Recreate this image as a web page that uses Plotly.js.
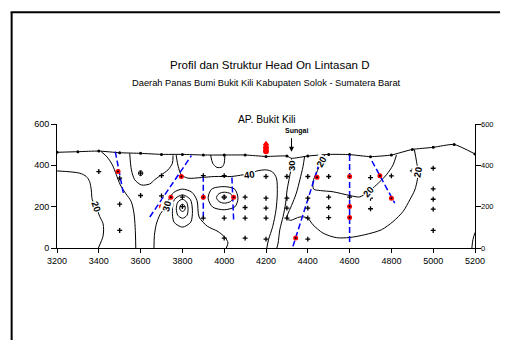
<!DOCTYPE html>
<html><head><meta charset="utf-8">
<script src="https://cdn.plot.ly/plotly-3.0.1.min.js"></script>
<style>body{margin:0;background:#fff}#chart{width:515px;height:340px}</style>
</head><body><div id="chart"></div>
<script>
// topography profile
const topoX = [3200,3300,3400,3500,3600,3700,3800,3900,4000,4100,4200,4300,4322,4400,4500,4600,4700,4800,4900,5000,5100,5200];
const topoY = [463,466,469,461,458,453,453,450,450,450,443,445,434,445,453,452,442,450,477,487,501,455];
const stationX = [3200,3300,3400,3500,3600,3700,3800,3900,4000,4100,4200,4300,4400,4500,4600,4700,4800,4900,5000,5100,5200];
const stationY = [463,466,469,461,458,453,453,450,450,450,443,445,445,453,452,442,450,477,487,501,455];
// measurement points
const ptX = [3400,3500,3500,3500,3600,3600,3700,3700,3800,3800,3900,3900,4000,4000,4000,4000,4100,4100,4100,4100,4200,4200,4200,4200,4200,4300,4300,4300,4300,4400,4400,4400,4400,4400,4500,4500,4500,4500,4600,4700,4700,4700,4800,4900,5000,5000,5000,5000,5000];
const ptY = [370,338,212,85,362,254,350,252,246,200,350,145,350,246,145,48,246,196,145,48,346,241,193,145,43,346,241,193,145,346,241,193,145,43,346,246,196,147,246,341,241,190,349,373,386,286,236,188,85];
// red points
const redX = [3492,3700,3745,3795,3900,4045,4342,4444,4600,4600,4600,4745,4800];
const redY = [370,201,246,346,246,246,48,342,346,201,148,349,241];
const apX = [4200,4200,4200];
const apY = [505,485,468];
// faults
const f1X=[3479,3519], f1Y=[466,257];
const f2X=[3644,3843], f2Y=[150,447];
const f3X=[3900,3900], f3Y=[349,137];
const f4X=[4037,4045], f4Y=[341,137];
const f5X=[4329,4465], f5Y=[8,442];
const f6X=[4600,4600], f6Y=[450,24];
const f7X=[4707,4816], f7Y=[421,217];
// contour lines (head)
const c1X=[3200,3309,3340,3356,3364,3369,3388,3404,3420,3423,3420,3398];
const c1Y=[373,362,346,322,281,233,201,153,120,88,56,0];
const c2X=[3412,3440,3465,3484,3503,3530,3555,3568,3574,3577];
const c2Y=[466,440,402,354,305,262,225,170,100,0];
const c3X=[3664,3666,3675,3692,3712,3723,3735,3760,3800,3845,3870,3880,3920,3970,4005,4018,4010];
const c3Y=[0,60,115,160,190,205,235,270,285,270,230,150,105,80,50,25,0];
const c4X=[3548,3556,3572,3604,3644,3667,3699,3731,3752,3755];
const c4Y=[458,378,330,305,310,330,354,378,410,448];
const c5X=[3590,3593,3600,3607,3610,3607,3600,3593,3590];
const c5Y=[362,371,374,371,362,353,350,353,362];
const c6X=[3787,3792,3800,3810,3814,3810,3800,3790,3787];
const c6Y=[195,208,212,206,195,182,177,183,195];
const c7X=[3771,3778,3800,3820,3827,3822,3800,3778,3771];
const c7Y=[190,222,236,222,190,158,144,158,190];
const c8X=[3752,3762,3800,3838,3848,3840,3800,3760,3752];
const c8Y=[180,235,257,235,180,125,101,125,180];
const c9X=[3990,3994,4000,4006,4010,4006,4000,3994,3990];
const c9Y=[246,253,256,253,246,239,236,239,246];
const c10X=[3963,3975,4000,4030,4042,4030,4000,3975,3963];
const c10Y=[244,263,270,263,244,225,217,225,244];
const c11X=[3923,3940,4000,4050,4066,4052,4000,3945,3923];
const c11Y=[241,285,297,285,241,200,185,198,241];
const c12X=[3770,3780,3795,3827,3891,3955,4034,4090,4122,4154,4202,4231,4250,4254,4248,4232,4212,4204];
const c12Y=[450,394,354,338,341,346,346,354,358,372,378,368,338,265,185,104,40,0];
const c13X=[3935,3945,3965,3990,4000,4003];
const c13Y=[450,410,390,392,410,450];
const c14X=[4322,4321,4313,4301,4294,4282,4266,4258,4252];
const c14Y=[434,394,346,281,217,153,88,24,0];
const c15X=[4385,4377,4362,4345,4322,4303,4302,4318,4361,4398,4425,4473,4537,4601,4672,4752,4808,4856,4888,4912,4924,4927,4920,4910];
const c15Y=[445,394,330,265,205,160,140,134,150,146,112,72,50,51,64,88,128,177,233,281,330,370,420,476];
const c16X=[4481,4465,4441,4425,4428,4460,4521,4601,4648,4690,4728,4776,4808,4824];
const c16Y=[452,418,362,321,285,278,272,254,247,273,305,354,402,450];
const c17X=[5185,5190,5200];
const c17Y=[0,40,75];
// labels
const labX=[3388,3723,4122,4321,4465,4690,4927];
const labY=[201,203,358,398,418,273,370];
const labT=['20','30','40','30','20','20','20'];
const labA=[70,-75,-8,-90,-60,-50,-80];
const yTicks=[0,200,400,600];
const yTickText=['0','200','400','600'];

function ln(x,y,extra){return Object.assign({x:x,y:y,mode:'lines',type:'scatter',line:{color:'#000',width:1,shape:'spline',smoothing:0.8},hoverinfo:'skip',showlegend:false},extra||{});}
const traces=[];
[[c1X,c1Y],[c2X,c2Y],[c3X,c3Y],[c4X,c4Y],[c5X,c5Y],[c6X,c6Y],[c7X,c7Y],[c8X,c8Y],[c9X,c9Y],[c10X,c10Y],[c11X,c11Y],[c12X,c12Y],[c13X,c13Y],[c14X,c14Y],[c15X,c15Y],[c16X,c16Y],[c17X,c17Y]].forEach(p=>traces.push(ln(p[0],p[1])));
traces.push(ln(topoX,topoY,{line:{color:'#000',width:1,shape:'spline',smoothing:0.5}}));
traces.push({x:stationX,y:stationY,mode:'markers',type:'scatter',marker:{symbol:'circle',size:3,color:'#000'},showlegend:false,hoverinfo:'skip'});
[[f1X,f1Y],[f2X,f2Y],[f3X,f3Y],[f4X,f4Y],[f5X,f5Y],[f6X,f6Y],[f7X,f7Y]].forEach(p=>traces.push({x:p[0],y:p[1],mode:'lines',type:'scatter',line:{color:'#0000ff',width:1.5,dash:'6px,3px'},showlegend:false,hoverinfo:'skip'}));
traces.push({x:redX,y:redY,mode:'markers',type:'scatter',marker:{symbol:'circle',size:5,color:'#ff0000'},showlegend:false,hoverinfo:'skip'});
traces.push({x:apX,y:apY,mode:'markers',type:'scatter',marker:{symbol:['triangle-up','circle','circle'],size:6,color:'#ff0000'},showlegend:false,hoverinfo:'skip',cliponaxis:false});
traces.push({x:ptX,y:ptY,mode:'markers',type:'scatter',marker:{symbol:'cross-thin',size:3.5,color:'#000',line:{width:1.3,color:'#000'}},showlegend:false,hoverinfo:'skip'});
traces.push({x:redX,y:redY,mode:'markers',type:'scatter',marker:{symbol:'circle',size:2,color:'#000'},showlegend:false,hoverinfo:'skip'});

const font='Liberation Sans, Arial, sans-serif';
const ann=[
 {text:'Profil dan Struktur Head On Lintasan D',xref:'paper',yref:'paper',x:0.509,y:1.475,xanchor:'center',yanchor:'middle',showarrow:false,font:{family:font,size:11.5,color:'#000'}},
 {text:'Daerah Panas Bumi Bukit Kili Kabupaten Solok - Sumatera Barat',xref:'paper',yref:'paper',x:0.502,y:1.332,xanchor:'center',yanchor:'middle',showarrow:false,font:{family:font,size:9.3,color:'#000'}},
 {text:'AP. Bukit Kili',xref:'paper',yref:'paper',x:0.5013,y:1.0378,xanchor:'center',yanchor:'middle',showarrow:false,font:{family:font,size:10.3,color:'#000'}},
 {text:'<b>Sungai</b>',x:4347,y:568,xref:'x',yref:'y',xanchor:'center',yanchor:'middle',showarrow:false,font:{family:font,size:7,color:'#000'}},
 {text:'',x:4322,y:466,xref:'x',yref:'y',ax:0,ay:-15,showarrow:true,arrowhead:2,arrowsize:1,arrowwidth:1,arrowcolor:'#000'}
];
labT.forEach((t,i)=>ann.push({text:'<b>'+t+'</b>',x:labX[i],y:labY[i],xref:'x',yref:'y',showarrow:false,textangle:labA[i],bgcolor:'#fff',borderpad:0,font:{family:font,size:9.5,color:'#000'}}));
// right-hand axis labels
yTicks.forEach((v,i)=>ann.push({text:yTickText[i],xref:'paper',yref:'y',x:1,y:v,xanchor:'left',yanchor:'middle',xshift:4,showarrow:false,font:{family:font,size:7.5,color:'#000'}}));

const axBase={showgrid:false,zeroline:false,showline:true,color:'#000',linecolor:'#000',linewidth:1,ticks:'outside',tickcolor:'#000',tickwidth:1};
const layout={
 width:515,height:340,margin:{l:57.3,r:40,t:124,b:91.7,pad:0},
 paper_bgcolor:'#fff',plot_bgcolor:'#fff',showlegend:false,
 xaxis:Object.assign({},axBase,{range:[3200,5200],dtick:200,tick0:3200,ticklen:4,tickfont:{family:font,size:9,color:'#000'}}),
 yaxis:Object.assign({},axBase,{range:[0,600],tickvals:yTicks,ticktext:yTickText,ticklen:5,mirror:'ticks',tickfont:{family:font,size:9,color:'#000'}}),
 annotations:ann,
 shapes:[
  {type:'line',xref:'paper',yref:'paper',x0:-0.1085,x1:-0.1085,y0:1.901,y1:-0.75,line:{color:'#000',width:2}},
  {type:'line',xref:'paper',yref:'paper',x0:-0.111,x1:1.06,y0:1.901,y1:1.901,line:{color:'#000',width:2}}
 ]
};
Plotly.newPlot('chart',traces,layout,{staticPlot:true,displayModeBar:false});
</script></body></html>
